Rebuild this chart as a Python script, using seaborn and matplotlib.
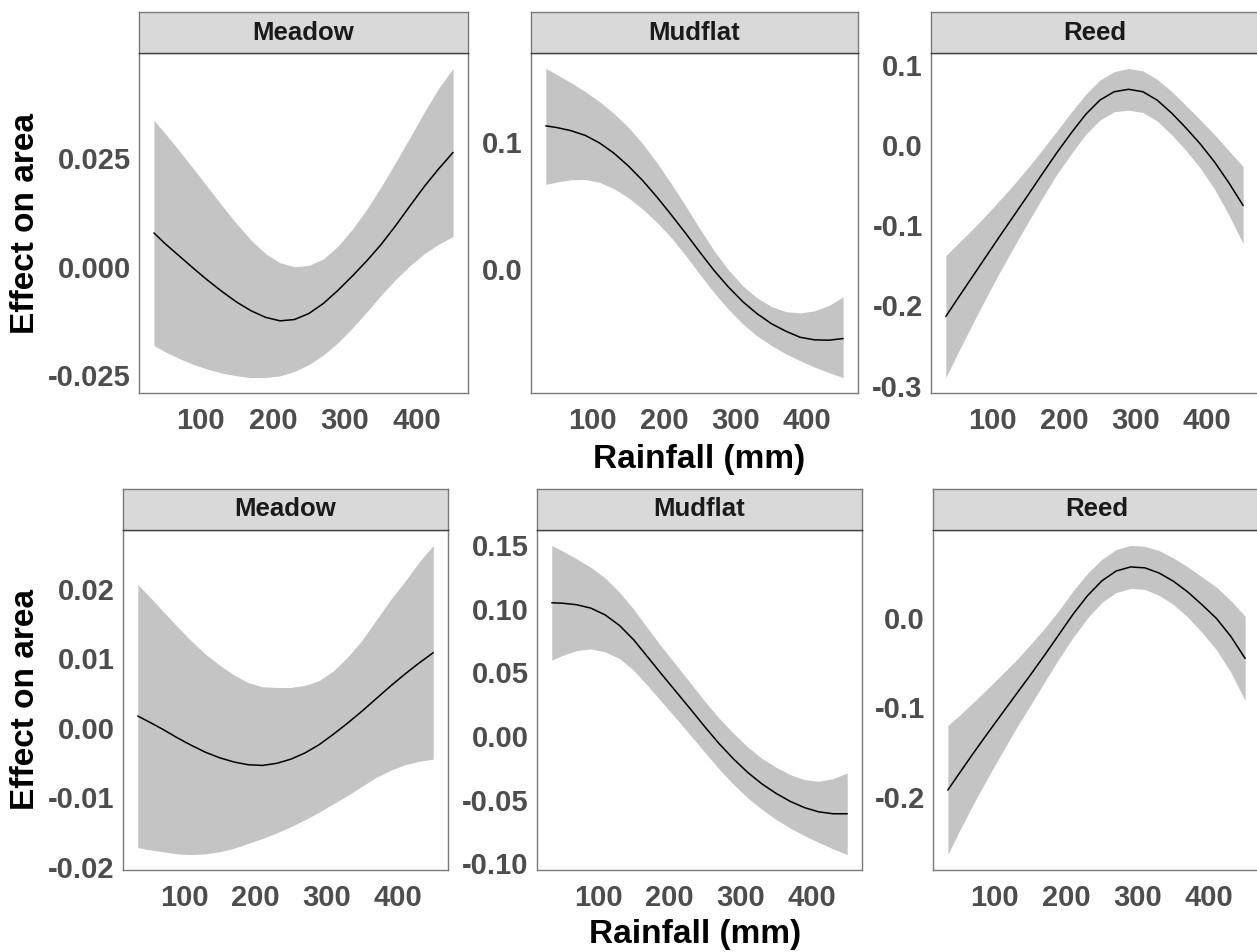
import numpy as np
import pandas as pd
import matplotlib
matplotlib.use("Agg")
import matplotlib.pyplot as plt
import seaborn as sns

# rainfall values where the curves were read (mm)
rain = [35, 50, 70, 90, 110, 130, 150, 170, 190, 210, 230,
        250, 270, 290, 310, 330, 350, 370, 390, 410, 430, 450]

habitats = ["Meadow", "Mudflat", "Reed"]

# --- top row ---
meadow_a_fit = [0.0078, 0.0054, 0.0025, -0.0004, -0.0032, -0.0058, -0.0082, -0.0102, -0.0117, -0.0125, -0.0122,
                -0.0108, -0.0085, -0.0055, -0.0022, 0.0013, 0.0051, 0.0094, 0.0140, 0.0185, 0.0226, 0.0264]
meadow_a_hi = [0.0338, 0.0309, 0.0268, 0.0226, 0.0183, 0.0140, 0.0099, 0.0061, 0.0030, 0.0009, 0.0000,
               0.0003, 0.0018, 0.0047, 0.0086, 0.0132, 0.0184, 0.0240, 0.0298, 0.0357, 0.0412, 0.0458]
meadow_a_lo = [-0.0182, -0.0196, -0.0212, -0.0226, -0.0237, -0.0246, -0.0252, -0.0256, -0.0256, -0.0252, -0.0242,
               -0.0226, -0.0204, -0.0176, -0.0142, -0.0105, -0.0066, -0.0030, 0.0002, 0.0030, 0.0052, 0.0070]

mudflat_a_fit = [0.1130, 0.1117, 0.1092, 0.1055, 0.0995, 0.0915, 0.0815, 0.0700, 0.0570, 0.0430, 0.0285,
                 0.0135, -0.0010, -0.0140, -0.0255, -0.0350, -0.0428, -0.0487, -0.0535, -0.0555, -0.0558, -0.0545]
mudflat_a_hi = [0.1582, 0.1535, 0.1470, 0.1400, 0.1320, 0.1228, 0.1120, 0.0990, 0.0840, 0.0675, 0.0500,
                0.0320, 0.0145, -0.0005, -0.0130, -0.0225, -0.0293, -0.0333, -0.0343, -0.0327, -0.0285, -0.0217]
mudflat_a_lo = [0.0669, 0.0688, 0.0705, 0.0708, 0.0685, 0.0635, 0.0565, 0.0475, 0.0370, 0.0250, 0.0110,
                -0.0040, -0.0185, -0.0315, -0.0430, -0.0525, -0.0600, -0.0665, -0.0720, -0.0770, -0.0813, -0.0852]

reed_a_fit = [-0.2138, -0.1935, -0.1670, -0.1405, -0.1140, -0.0880, -0.0620, -0.0355, -0.0095, 0.0150, 0.0380,
              0.0560, 0.0665, 0.0695, 0.0665, 0.0560, 0.0400, 0.0215, 0.0015, -0.0210, -0.0470, -0.0754]
reed_a_hi = [-0.1380, -0.1245, -0.1070, -0.0885, -0.0690, -0.0490, -0.0280, -0.0055, 0.0175, 0.0410, 0.0630,
             0.0810, 0.0915, 0.0955, 0.0925, 0.0820, 0.0670, 0.0495, 0.0315, 0.0130, -0.0070, -0.0270]
reed_a_lo = [-0.2900, -0.2625, -0.2270, -0.1925, -0.1590, -0.1270, -0.0960, -0.0655, -0.0365, -0.0110, 0.0130,
             0.0310, 0.0415, 0.0435, 0.0405, 0.0300, 0.0130, -0.0065, -0.0285, -0.0550, -0.0870, -0.1230]

# --- bottom row ---
meadow_b_fit = [0.0017, 0.0009, -0.0002, -0.0014, -0.0025, -0.0035, -0.0043, -0.0049, -0.0053, -0.0054, -0.0051,
                -0.0045, -0.0036, -0.0024, -0.0009, 0.0007, 0.0024, 0.0042, 0.0060, 0.0077, 0.0093, 0.0108]
meadow_b_hi = [0.0206, 0.0190, 0.0168, 0.0146, 0.0125, 0.0106, 0.0090, 0.0076, 0.0065, 0.0059, 0.0058,
               0.0058, 0.0061, 0.0068, 0.0082, 0.0102, 0.0126, 0.0155, 0.0184, 0.0210, 0.0238, 0.0262]
meadow_b_lo = [-0.0172, -0.0175, -0.0178, -0.0181, -0.0182, -0.0181, -0.0178, -0.0173, -0.0166, -0.0159, -0.0151,
               -0.0142, -0.0132, -0.0121, -0.0109, -0.0097, -0.0084, -0.0071, -0.0061, -0.0053, -0.0048, -0.0045]

mudflat_b_fit = [0.1045, 0.1042, 0.1030, 0.1003, 0.0950, 0.0868, 0.0755, 0.0618, 0.0480, 0.0345, 0.0210,
                 0.0072, -0.0060, -0.0178, -0.0285, -0.0375, -0.0450, -0.0513, -0.0562, -0.0595, -0.0610, -0.0610]
mudflat_b_hi = [0.1495, 0.1452, 0.1390, 0.1323, 0.1240, 0.1128, 0.0995, 0.0843, 0.0695, 0.0555, 0.0415,
                0.0272, 0.0140, 0.0022, -0.0085, -0.0175, -0.0245, -0.0303, -0.0342, -0.0355, -0.0335, -0.0290]
mudflat_b_lo = [0.0595, 0.0632, 0.0670, 0.0683, 0.0660, 0.0608, 0.0515, 0.0393, 0.0265, 0.0135, 0.0005,
                -0.0128, -0.0260, -0.0378, -0.0485, -0.0575, -0.0655, -0.0723, -0.0782, -0.0835, -0.0885, -0.0930]

reed_b_fit = [-0.1925, -0.1750, -0.1520, -0.1297, -0.1078, -0.0860, -0.0643, -0.0420, -0.0190, 0.0040, 0.0245,
              0.0410, 0.0520, 0.0565, 0.0555, 0.0497, 0.0405, 0.0285, 0.0142, -0.0010, -0.0210, -0.0456]
reed_b_hi = [-0.1205, -0.1100, -0.0950, -0.0797, -0.0638, -0.0480, -0.0303, -0.0120, 0.0080, 0.0300, 0.0495,
             0.0650, 0.0760, 0.0805, 0.0795, 0.0747, 0.0665, 0.0565, 0.0452, 0.0340, 0.0190, 0.0014]
reed_b_lo = [-0.2645, -0.2400, -0.2090, -0.1797, -0.1518, -0.1240, -0.0983, -0.0720, -0.0460, -0.0220, -0.0005,
             0.0170, 0.0280, 0.0325, 0.0315, 0.0247, 0.0145, 0.0005, -0.0168, -0.0360, -0.0610, -0.0926]

x_ticks = [100, 200, 300, 400]
y_ticks = [
    ([-0.025, 0.0, 0.025], ["-0.025", "0.000", "0.025"]),
    ([0.0, 0.1], ["0.0", "0.1"]),
    ([-0.3, -0.2, -0.1, 0.0, 0.1], ["-0.3", "-0.2", "-0.1", "0.0", "0.1"]),
    ([-0.02, -0.01, 0.0, 0.01, 0.02], ["-0.02", "-0.01", "0.00", "0.01", "0.02"]),
    ([-0.10, -0.05, 0.0, 0.05, 0.10, 0.15], ["-0.10", "-0.05", "0.00", "0.05", "0.10", "0.15"]),
    ([-0.2, -0.1, 0.0], ["-0.2", "-0.1", "0.0"]),
]

series = [
    (meadow_a_fit, meadow_a_lo, meadow_a_hi),
    (mudflat_a_fit, mudflat_a_lo, mudflat_a_hi),
    (reed_a_fit, reed_a_lo, reed_a_hi),
    (meadow_b_fit, meadow_b_lo, meadow_b_hi),
    (mudflat_b_fit, mudflat_b_lo, mudflat_b_hi),
    (reed_b_fit, reed_b_lo, reed_b_hi),
]

sns.set_style("white")
plt.rcParams["font.family"] = ["Liberation Sans", "DejaVu Sans"]
plt.rcParams["font.weight"] = "bold"

W, H = 1257, 952
fig = plt.figure(figsize=(W / 100, H / 100), dpi=100)

# panel boxes in pixels: (left, right, top, bottom)
boxes = [
    (139, 468, 53, 393), (531, 858, 53, 393), (931, 1258, 53, 393),
    (123, 448, 530, 870), (537, 862, 530, 870), (933, 1260, 530, 870),
]
strip_h = 41
border = "#7A7A7A"

for i, (fit, lo, hi) in enumerate(series):
    l, r, t, b = boxes[i]
    ax = fig.add_axes([l / W, 1 - b / H, (r - l) / W, (b - t) / H])
    df = pd.DataFrame({"rain": rain, "fit": fit, "lo": lo, "hi": hi})
    ax.fill_between(df["rain"], df["lo"], df["hi"], color="#C4C4C4", linewidth=0)
    sns.lineplot(data=df, x="rain", y="fit", ax=ax, color="black", linewidth=1.1)

    xr = max(rain) - min(rain)
    ax.set_xlim(min(rain) - 0.05 * xr, max(rain) + 0.05 * xr)
    ymin, ymax = min(lo), max(hi)
    yr = ymax - ymin
    ax.set_ylim(ymin - 0.05 * yr, ymax + 0.05 * yr)

    ax.set_xticks(x_ticks)
    ax.set_xticklabels([str(v) for v in x_ticks])
    ax.set_yticks(y_ticks[i][0])
    ax.set_yticklabels(y_ticks[i][1])
    ax.tick_params(axis="both", length=4, width=0.8, color="#555555",
                   labelsize=21, labelcolor="#4D4D4D", direction="out")
    ax.tick_params(axis="x", pad=6)
    ax.tick_params(axis="y", pad=2)
    for lab in ax.get_xticklabels() + ax.get_yticklabels():
        lab.set_fontweight("bold")
    ax.set_xlabel("")
    ax.set_ylabel("")
    for sp in ax.spines.values():
        sp.set_visible(True)
        sp.set_color(border)
        sp.set_linewidth(1.0)

    # facet strip
    sax = fig.add_axes([l / W, 1 - t / H, (r - l) / W, strip_h / H])
    sax.set_facecolor("#D9D9D9")
    sax.set_xticks([])
    sax.set_yticks([])
    for sp in sax.spines.values():
        sp.set_visible(True)
        sp.set_color(border)
        sp.set_linewidth(1.0)
    sax.spines["bottom"].set_color("#404040")
    sax.text(0.5, 0.5, habitats[i % 3], transform=sax.transAxes, ha="center",
             va="center", fontsize=18.5, fontweight="bold", color="#1A1A1A")

# shared axis titles per row
fig.text(26 / W, 1 - 223 / H, "Effect on area", rotation=90, ha="center", va="center",
         fontsize=24, fontweight="bold", color="black")
fig.text(26 / W, 1 - 699 / H, "Effect on area", rotation=90, ha="center", va="center",
         fontsize=24, fontweight="bold", color="black")
fig.text(699 / W, 1 - 459 / H, "Rainfall (mm)", ha="center", va="center",
         fontsize=24, fontweight="bold", color="black")
fig.text(695 / W, 1 - 934 / H, "Rainfall (mm)", ha="center", va="center",
         fontsize=24, fontweight="bold", color="black")

fig.savefig("out.png", dpi=100, facecolor="white")
